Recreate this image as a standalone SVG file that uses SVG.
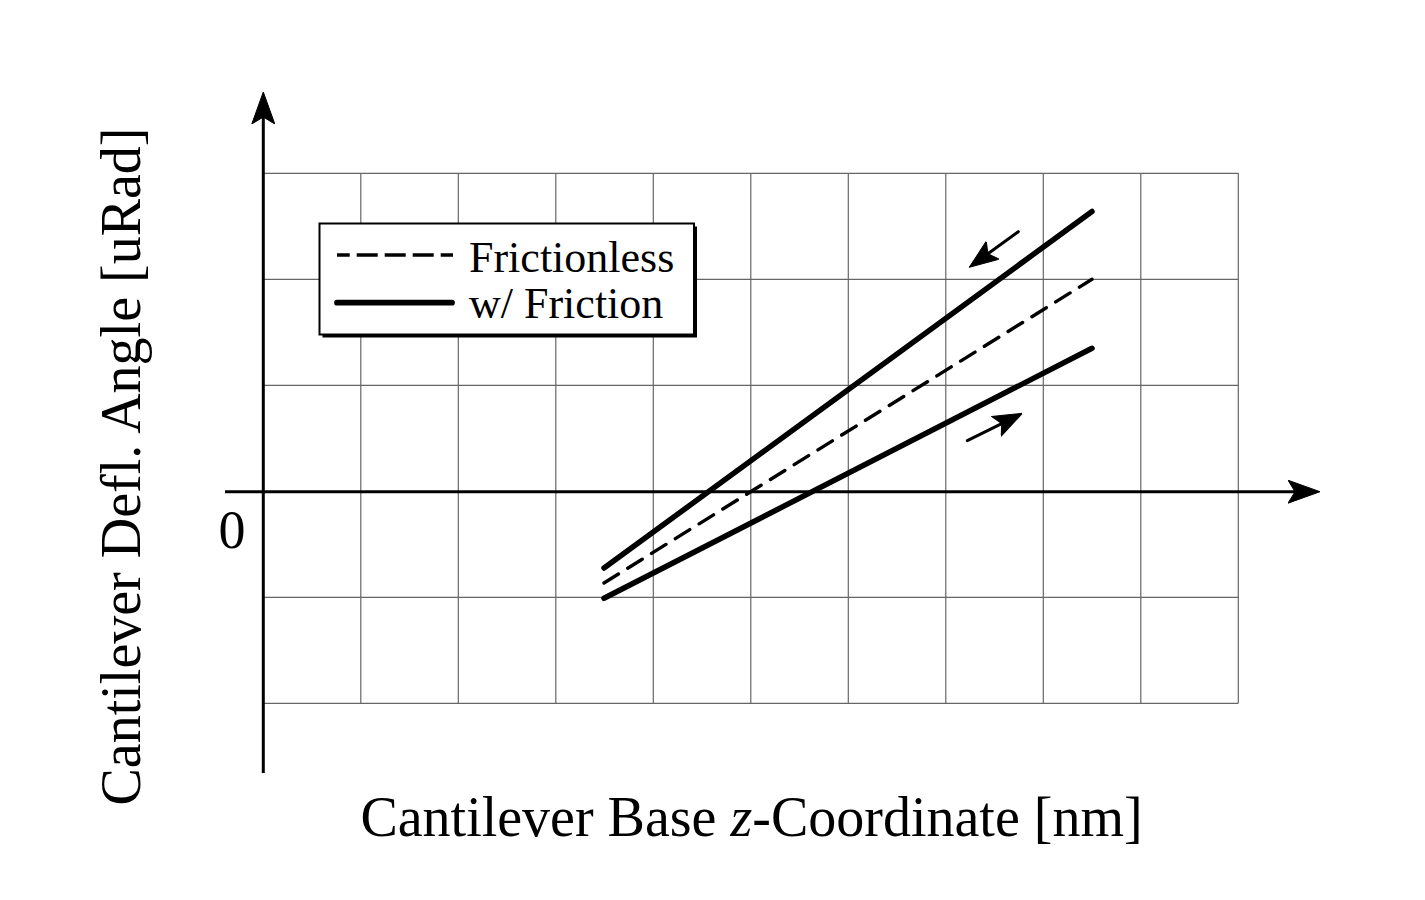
<svg xmlns="http://www.w3.org/2000/svg" width="1425" height="900" viewBox="0 0 1425 900">
<style>
.grid{stroke:#666;stroke-width:1.2;fill:none}
.axis{stroke:#000;stroke-width:3;fill:none}
.thick{stroke:#000;stroke-width:5.5;stroke-linecap:round;fill:none}
.dash{stroke:#000;stroke-width:3.4;stroke-linecap:round;stroke-dasharray:17 11;fill:none}
.small{stroke:#000;stroke-width:3;stroke-linecap:round;fill:none}
.lbl{font-family:"Liberation Serif","Times New Roman",serif;fill:#000}
</style>
<defs>
<marker id="ahBig" markerUnits="userSpaceOnUse" viewBox="0 0 32 24" refX="7" refY="12" markerWidth="32" markerHeight="24" orient="auto">
<path d="M0,0.5 L32,12 L0,23.5 L7,12 Z" fill="#000" stroke="#000" stroke-width="1" stroke-linejoin="round"/>
</marker>
<marker id="ahSmall" markerUnits="userSpaceOnUse" viewBox="0 0 29 23" refX="6" refY="11.5" markerWidth="29" markerHeight="23" orient="auto">
<path d="M0,0.5 L29,11.5 L0,22.5 L6,11.5 Z" fill="#000" stroke="#000" stroke-width="1" stroke-linejoin="round"/>
</marker>
</defs>
<rect x="0" y="0" width="1425" height="900" fill="#fff"/>
<g id="grid" class="grid">
<line x1="263.3" y1="173.3" x2="1238.3" y2="173.3"/>
<line x1="263.3" y1="279.3" x2="1238.3" y2="279.3"/>
<line x1="263.3" y1="385.3" x2="1238.3" y2="385.3"/>
<line x1="263.3" y1="597.3" x2="1238.3" y2="597.3"/>
<line x1="263.3" y1="703.3" x2="1238.3" y2="703.3"/>
<line x1="360.8" y1="173.3" x2="360.8" y2="703.3"/>
<line x1="458.3" y1="173.3" x2="458.3" y2="703.3"/>
<line x1="555.8" y1="173.3" x2="555.8" y2="703.3"/>
<line x1="653.3" y1="173.3" x2="653.3" y2="703.3"/>
<line x1="750.8" y1="173.3" x2="750.8" y2="703.3"/>
<line x1="848.3" y1="173.3" x2="848.3" y2="703.3"/>
<line x1="945.8" y1="173.3" x2="945.8" y2="703.3"/>
<line x1="1043.3" y1="173.3" x2="1043.3" y2="703.3"/>
<line x1="1140.8" y1="173.3" x2="1140.8" y2="703.3"/>
<line x1="1238.3" y1="173.3" x2="1238.3" y2="703.3"/>
</g>
<g id="axes">
<line class="axis" x1="225" y1="491.7" x2="1295" y2="491.7" marker-end="url(#ahBig)"/>
<line class="axis" x1="263.3" y1="773" x2="263.3" y2="117" marker-end="url(#ahBig)"/>
</g>
<g id="curves">
<line id="curve-retract" class="thick" x1="604" y1="568" x2="1092" y2="211.5"/>
<line id="curve-frictionless" class="dash" x1="604" y1="583" x2="1092" y2="279.3"/>
<line id="curve-approach" class="thick" x1="604" y1="598.3" x2="1092" y2="348.3"/>
</g>
<g id="connectors">
<line class="small" x1="1018.3" y1="231.7" x2="987.9" y2="253.8" marker-end="url(#ahSmall)"/>
<line class="small" x1="967.3" y1="440.7" x2="1001.7" y2="423.6" marker-end="url(#ahSmall)"/>
</g>
<g id="legend">
<rect x="322.5" y="226.5" width="374.5" height="111" fill="#000"/>
<rect x="319.5" y="223.5" width="374.5" height="111" fill="#fff" stroke="#000" stroke-width="2"/>
<line x1="337" y1="255" x2="453" y2="255" stroke="#000" stroke-width="3.4" stroke-dasharray="21 7" stroke-dashoffset="8.3"/>
<line x1="337" y1="302.7" x2="452" y2="302.7" stroke="#000" stroke-width="5.7" stroke-linecap="round"/>
<text class="lbl" x="469" y="271.7" font-size="44">Frictionless</text>
<text class="lbl" x="469" y="318" font-size="44">w/ Friction</text>
</g>
<g id="labels">
<text class="lbl" x="232" y="548" font-size="54" text-anchor="middle">0</text>
<text class="lbl" x="751.5" y="836" font-size="56" text-anchor="middle">Cantilever Base <tspan font-style="italic">z</tspan>-Coordinate [nm]</text>
<text class="lbl" font-size="56" text-anchor="middle" transform="translate(140,466.5) rotate(-90)">Cantilever Defl. Angle [uRad]</text>
</g>
</svg>
